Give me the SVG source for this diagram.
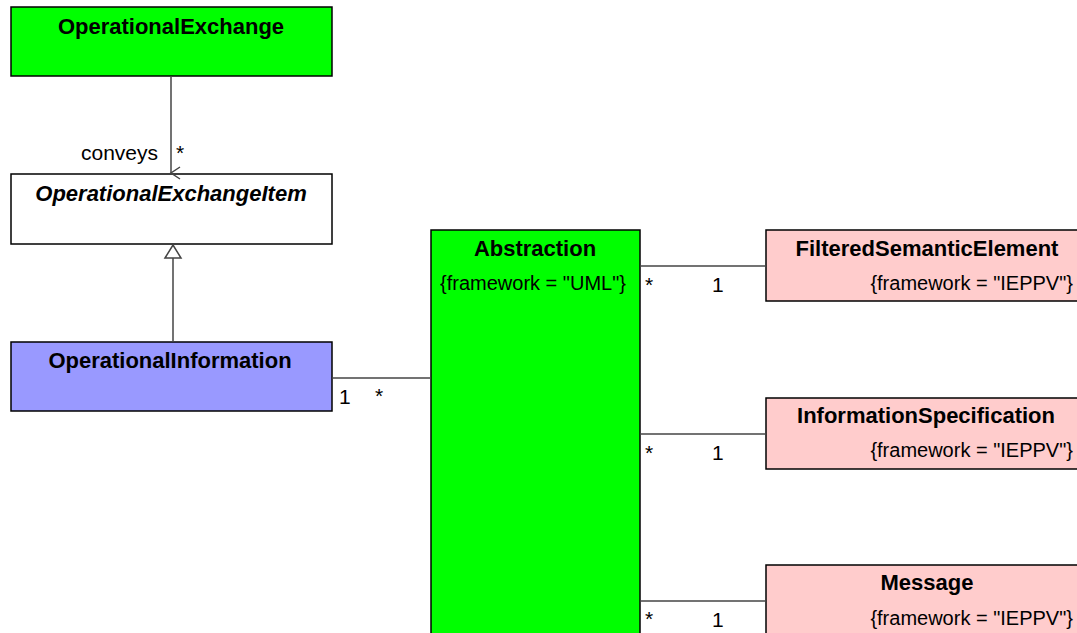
<svg xmlns="http://www.w3.org/2000/svg" width="1077" height="633" viewBox="0 0 1077 633">
<style>
.box{stroke:#000;stroke-width:1.5}
.t{font-family:"Liberation Sans",Arial,sans-serif;font-size:22px;font-weight:bold;text-anchor:middle;fill:#000}
.f{font-family:"Liberation Sans",Arial,sans-serif;font-size:20px;fill:#000}
.m{font-family:"Liberation Sans",Arial,sans-serif;font-size:21px;fill:#000}
.c{stroke:#444;stroke-width:1.5;fill:none}
</style>
<defs>
<marker id="open" markerWidth="14" markerHeight="14" refX="7" refY="12" orient="auto" markerUnits="userSpaceOnUse" viewBox="0 0 14 14">
<path d="M1,3 L7,12 L13,3" fill="none" stroke="#444" stroke-width="1.5"/>
</marker>
</defs>
<rect width="1077" height="633" fill="#fff"/>
<g id="OperationalExchange">
<rect class="box" x="11" y="7" width="321" height="69" fill="#00ff00"/>
<text class="t" x="171" y="34">OperationalExchange</text>
</g>
<g id="OperationalExchangeItem">
<rect class="box" x="11" y="174" width="321" height="70" fill="#fff"/>
<text class="t" x="171" y="201" font-style="italic">OperationalExchangeItem</text>
</g>
<g id="OperationalInformation">
<rect class="box" x="11" y="342" width="321" height="69" fill="#9999ff"/>
<text class="t" x="170" y="368">OperationalInformation</text>
</g>
<g id="Abstraction">
<rect class="box" x="431" y="230" width="209" height="410" fill="#00ff00"/>
<text class="t" x="535" y="256">Abstraction</text>
<text class="f" x="533" y="290" text-anchor="middle">{framework = "UML"}</text>
</g>
<g id="FilteredSemanticElement">
<rect class="box" x="766" y="230" width="320" height="71" fill="#ffcccc"/>
<text class="t" x="927" y="256">FilteredSemanticElement</text>
<text class="f" x="1073" y="290" text-anchor="end">{framework = "IEPPV"}</text>
</g>
<g id="InformationSpecification">
<rect class="box" x="766" y="398" width="320" height="71" fill="#ffcccc"/>
<text class="t" x="926" y="423">InformationSpecification</text>
<text class="f" x="1073" y="457" text-anchor="end">{framework = "IEPPV"}</text>
</g>
<g id="Message">
<rect class="box" x="766" y="565" width="320" height="80" fill="#ffcccc"/>
<text class="t" x="927" y="590">Message</text>
<text class="f" x="1073" y="625" text-anchor="end">{framework = "IEPPV"}</text>
</g>
<g id="connectors">
<line class="c" x1="171" y1="76" x2="171" y2="173" marker-end="url(#open)"/>
<text class="m" x="81" y="160">conveys</text>
<text class="m" x="176" y="160">*</text>
<line class="c" x1="173" y1="342" x2="173" y2="258"/>
<path d="M165,258 L173,245 L181,258 Z" fill="#fff" stroke="#444" stroke-width="1.5"/>
<line class="c" x1="332" y1="378" x2="431" y2="378"/>
<text class="m" x="339" y="404">1</text>
<text class="m" x="375" y="403">*</text>
<line class="c" x1="640" y1="266" x2="766" y2="266"/>
<text class="m" x="645" y="292">*</text>
<text class="m" x="712" y="292">1</text>
<line class="c" x1="640" y1="434" x2="766" y2="434"/>
<text class="m" x="645" y="460">*</text>
<text class="m" x="712" y="460">1</text>
<line class="c" x1="640" y1="601" x2="766" y2="601"/>
<text class="m" x="645" y="626">*</text>
<text class="m" x="712" y="627">1</text>
</g>
</svg>
